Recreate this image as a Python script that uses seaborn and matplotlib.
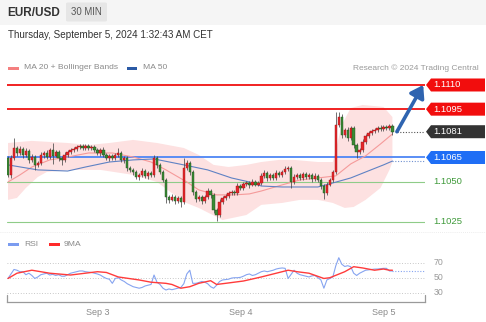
import numpy as np
import pandas as pd
import matplotlib
matplotlib.use("Agg")
import matplotlib.pyplot as plt
import seaborn as sns
from matplotlib.patches import Polygon, Rectangle, FancyBboxPatch

sns.set_theme(style="white")
plt.rcParams['font.family'] = ['Liberation Sans', 'DejaVu Sans']

# ---------------- data ----------------
symbol = "EUR/USD"
timeframe = "30 MIN"
timestamp = "Thursday, September 5, 2024 1:32:43 AM CET"
day_labels = ["Sep 3", "Sep 4", "Sep 5"]
day_index = [30, 78, 126]

first_open = 1.10647
closes = [
    1.10542, 1.10647, 1.10709, 1.10678, 1.10703, 1.10666, 1.10691, 1.10635, 1.10653, 1.10604,
    1.10616, 1.10666, 1.10678, 1.10653, 1.10697, 1.10660, 1.10684, 1.10647, 1.10635, 1.10666,
    1.10684, 1.10697, 1.10703, 1.10715, 1.10722, 1.10709, 1.10722, 1.10709, 1.10715, 1.10697,
    1.10678, 1.10697, 1.10666, 1.10647, 1.10660, 1.10647, 1.10666, 1.10678, 1.10635, 1.10647,
    1.10585, 1.10573, 1.10560, 1.10529, 1.10542, 1.10566, 1.10535, 1.10554, 1.10542, 1.10647,
    1.10604, 1.10560, 1.10511, 1.10405, 1.10387, 1.10405, 1.10380, 1.10399, 1.10374, 1.10585,
    1.10616, 1.10560, 1.10436, 1.10393, 1.10405, 1.10380, 1.10405, 1.10442, 1.10418, 1.10325,
    1.10293, 1.10374, 1.10399, 1.10411, 1.10430, 1.10436, 1.10430, 1.10473, 1.10461, 1.10486,
    1.10492, 1.10480, 1.10498, 1.10480, 1.10492, 1.10535, 1.10554, 1.10523, 1.10542, 1.10523,
    1.10554, 1.10542, 1.10560, 1.10579, 1.10585, 1.10498, 1.10529, 1.10542, 1.10523, 1.10548,
    1.10529, 1.10542, 1.10517, 1.10535, 1.10511, 1.10474, 1.10430, 1.10480, 1.10511, 1.10560,
    1.10852, 1.10901, 1.10790, 1.10821, 1.10771, 1.10833, 1.10728, 1.10684, 1.10697, 1.10746,
    1.10784, 1.10802, 1.10815, 1.10821, 1.10833, 1.10827, 1.10839, 1.10833, 1.10846, 1.10810,
]
upper_wick_pips = [
    1, 2, 6, 1, 2, 1, 2, 1, 2, 1,
    1, 2, 1, 2, 1, 4, 1, 1, 1, 2,
    1, 1, 1, 1, 1, 1, 1, 1, 1, 1,
    1, 1, 2, 1, 1, 1, 1, 3, 1, 1,
    1, 1, 1, 1, 1, 2, 1, 1, 1, 2,
    1, 1, 1, 1, 1, 2, 1, 1, 1, 6,
    2, 1, 1, 1, 1, 1, 1, 2, 1, 1,
    1, 2, 1, 1, 1, 1, 1, 2, 1, 1,
    1, 1, 2, 1, 1, 2, 2, 1, 1, 1,
    2, 1, 1, 2, 1, 1, 2, 1, 1, 1,
    1, 1, 1, 2, 1, 1, 1, 2, 1, 1,
    8, 3, 2, 1, 2, 1, 1, 1, 1, 2,
    1, 1, 1, 1, 1, 2, 1, 1, 1, 1,
]
lower_wick_pips = [
    1, 2, 1, 2, 1, 2, 1, 2, 1, 3,
    1, 1, 2, 1, 1, 5, 1, 2, 3, 1,
    1, 1, 1, 1, 1, 1, 1, 1, 1, 1,
    1, 2, 1, 1, 2, 1, 1, 1, 1, 2,
    2, 1, 2, 1, 2, 1, 1, 2, 1, 1,
    2, 1, 1, 4, 2, 1, 2, 1, 3, 1,
    1, 2, 2, 2, 1, 2, 1, 1, 2, 2,
    4, 1, 1, 1, 1, 1, 1, 1, 1, 1,
    1, 2, 1, 1, 1, 1, 1, 2, 1, 1,
    1, 1, 1, 1, 1, 4, 1, 1, 1, 1,
    1, 1, 2, 1, 1, 2, 4, 1, 1, 1,
    1, 1, 2, 1, 2, 1, 2, 4, 1, 1,
    1, 1, 1, 1, 1, 1, 1, 1, 1, 2,
]

ma20_idx = [0, 4, 8, 14, 20, 27, 35, 42, 48, 53, 60, 64, 70, 76, 81, 85, 92, 98, 104, 110, 115, 120, 125, 129]
ma20_val = [1.10498, 1.10542, 1.10591, 1.10635, 1.10653, 1.10678, 1.10678, 1.10653, 1.10622, 1.10573,
            1.10498, 1.10449, 1.10418, 1.10418, 1.10424, 1.10442, 1.10480, 1.10511, 1.10523, 1.10536,
            1.10610, 1.10660, 1.10734, 1.10796]

bb_up_idx = [0, 8, 20, 27, 34, 42, 50, 59, 64, 69, 74, 80, 85, 91, 96, 104, 109, 110, 112, 115, 119, 126, 129]
bb_up_val = [1.10740, 1.10753, 1.10740, 1.10728, 1.10740, 1.10759, 1.10740, 1.10709, 1.10666, 1.10604,
             1.10591, 1.10604, 1.10622, 1.10635, 1.10635, 1.10622, 1.10622, 1.10697, 1.10852, 1.10957,
             1.10976, 1.10964, 1.10901]
bb_lo_idx = [0, 3, 6, 10, 13, 21, 31, 42, 50, 59, 64, 72, 80, 85, 92, 98, 104, 109, 113, 116, 120, 125, 128, 129]
bb_lo_val = [1.10387, 1.10399, 1.10461, 1.10529, 1.10560, 1.10573, 1.10573, 1.10542, 1.10498, 1.10374,
             1.10337, 1.10262, 1.10293, 1.10356, 1.10368, 1.10387, 1.10387, 1.10368, 1.10337, 1.10343,
             1.10387, 1.10461, 1.10573, 1.10622]

ma50_idx = [0, 10, 20, 26, 34, 42, 49, 59, 67, 75, 81, 85, 92, 104, 109, 115, 120, 126, 129]
ma50_val = [1.10604, 1.10573, 1.10566, 1.10591, 1.10622, 1.10635, 1.10641, 1.10604, 1.10573, 1.10523,
            1.10498, 1.10473, 1.10467, 1.10467, 1.10492, 1.10523, 1.10560, 1.10604, 1.10628]

rsi_val = [
    49, 55, 61, 60, 58, 58, 54, 56, 53, 49,
    51, 54, 55, 56, 53.6, 54.5, 53, 54, 52, 52,
    54, 56, 57, 58, 59, 59, 58, 57.5, 57, 56,
    55, 53.5, 51, 49, 48, 42.5, 49, 50, 47, 45,
    42, 40, 38, 37, 36, 37, 39, 40, 41, 53.6,
    44, 41, 36, 33.6, 35, 34, 35, 36, 37, 42,
    55, 60, 42.5, 42.5, 43.5, 45, 44, 42, 38, 36,
    40, 45, 47, 47.5, 48, 49.5, 50, 50, 50.5, 52,
    54, 55, 53, 54, 56, 58, 59, 58, 59, 60,
    61.6, 62.5, 63, 62.5, 49, 54.5, 60, 56, 54, 53,
    52, 51, 52.5, 53, 50, 47, 36, 47, 49, 51,
    66, 76.7, 68, 65, 66, 64.7, 56, 53, 56, 58,
    60, 60.5, 61, 61.5, 61.6, 62, 62.5, 62.5, 59, 59,
]
rsi_ma_idx = [0, 3, 8, 14, 21, 30, 33, 37, 44, 48, 53, 55, 58, 61, 64, 68, 70, 73, 79, 85, 90, 94, 97,
              101, 106, 108, 113, 116, 119, 123, 126, 128, 129]
rsi_ma_val = [49, 56, 60, 56, 53.6, 58, 57, 51, 47, 44, 42.5, 41, 36, 38, 42.5, 46, 41, 42.5, 45.6, 51, 56,
              60, 58, 56, 49, 50, 58, 64.7, 63, 60, 61.6, 60, 60]
rsi_levels = [30, 50, 70]

resistances = [1.1110, 1.1095]
supports_strong = [1.1065]
supports_weak = [1.1050, 1.1025]
target = 1.1110

# ---------------- figure ----------------
W, H = 486, 322
fig = plt.figure(figsize=(W / 100, H / 100), dpi=100)
fig.patch.set_facecolor("white")


def fx(px):
    return px / W


def fy(py):
    return 1 - py / H


# header band
fig.add_artist(Rectangle((0, fy(25)), 1, 25 / H, transform=fig.transFigure,
                         facecolor="#f5f5f5", edgecolor="none", zorder=0))
fig.add_artist(FancyBboxPatch((fx(66), fy(21.5)), fx(41), 19 / H, boxstyle="round,pad=0,rounding_size=0.004",
                              transform=fig.transFigure, facecolor="#e6e6e6", edgecolor="none", zorder=1))
fig.text(fx(7), fy(12.5), symbol, fontsize=8.5, fontweight="bold", color="#333333", va="center", ha="left")
fig.text(fx(86.5), fy(12.3), timeframe, fontsize=6.9, color="#555555", va="center", ha="center")
fig.text(fx(8), fy(35.5), timestamp, fontsize=7.1, color="#333333", va="center", ha="left")

# legends
fig.add_artist(Rectangle((fx(8), fy(69.5)), fx(11), 3 / H, transform=fig.transFigure,
                         facecolor="#f47f7f", edgecolor="none"))
fig.text(fx(24), fy(68), "MA 20 + Bollinger Bands", fontsize=6.1, color="#8a8a8a", va="center")
fig.add_artist(Rectangle((fx(127), fy(69.5)), fx(10), 3 / H, transform=fig.transFigure,
                         facecolor="#2b5aa5", edgecolor="none"))
fig.text(fx(143), fy(68), "MA 50", fontsize=6.1, color="#8a8a8a", va="center")
fig.text(fx(479), fy(68), "Research \u00a9 2024 Trading Central", fontsize=6.0, color="#9a9a9a",
         va="center", ha="right")

fig.add_artist(Rectangle((fx(8), fy(245.5)), fx(11), 3 / H, transform=fig.transFigure,
                         facecolor="#7b9cf0", edgecolor="none"))
fig.text(fx(24), fy(244), "RSI", fontsize=6.1, color="#8a8a8a", va="center")
fig.add_artist(Rectangle((fx(49), fy(245.5)), fx(11), 3 / H, transform=fig.transFigure,
                         facecolor="#ff2a2a", edgecolor="none"))
fig.text(fx(64), fy(244), "9MA", fontsize=6.1, color="#8a8a8a", va="center")

# faint separator
fig.add_artist(plt.Line2D([0, 1], [fy(232), fy(232)], transform=fig.transFigure,
                          color="#e6e6e6", lw=0.6, ls=(0, (1, 1.5))))

# ---------------- main price axes ----------------
n = len(closes)
idx = np.arange(n)
x_left = -0.34
x_right = 139.93
ax = fig.add_axes([fx(7), (H - 230) / H, 418 / W, 155 / H])
ax.set_xlim(x_left, x_right)
ax.set_ylim(1.10200, 1.11162)
ax.axis("off")

# Bollinger band
poly_x = list(bb_up_idx) + list(bb_lo_idx[::-1])
poly_y = list(bb_up_val) + list(bb_lo_val[::-1])
ax.fill(poly_x, poly_y, color="#fde1e1", lw=0, zorder=0)

# level lines
for lv in resistances:
    ax.axhline(lv, color="#f01010", lw=1.3, zorder=1)
for lv in supports_strong:
    ax.axhline(lv, color="#4d86f5", lw=1.3, zorder=1)
for lv in supports_weak:
    ax.axhline(lv, color="#8fcc88", lw=0.8, zorder=1)

# moving averages
sns.lineplot(x=ma20_idx, y=ma20_val, ax=ax, color="#f59a9a", lw=0.8, zorder=2)
sns.lineplot(x=ma50_idx, y=ma50_val, ax=ax, color="#5f82c4", lw=0.8, zorder=2)
ax.plot([ma50_idx[-1], x_right], [ma50_val[-1]] * 2, color="#6f90d0", lw=0.8,
        ls=(0, (1, 1.5)), zorder=2)

# candles
opens = np.array([first_open] + closes[:-1])
cl = np.array(closes)
pip = 0.0001
body_lo = np.minimum(opens, cl)
body_hi = np.maximum(opens, cl)
highs = body_hi + np.array(upper_wick_pips) * pip
lows = body_lo - np.array(lower_wick_pips) * pip
up = cl >= opens
colors = np.where(up, "#e3262a", "#3a8a35")
edges = np.where(up, "#a31417", "#1f4f1c")
ax.vlines(idx, lows, highs, colors="#4a4a4a", lw=0.55, zorder=3)
heights = np.maximum(body_hi - body_lo, 0.00004)
ax.bar(idx, heights, bottom=body_lo, width=0.8, color=colors, edgecolor=edges, lw=0.3, zorder=4)

# last price dotted and arrow
ax.plot([n + 0.5, x_right], [closes[-1]] * 2, color="#555555", lw=0.8, ls=(0, (1, 1.5)), zorder=2)
ax.annotate("", xy=(x_right - 0.6, target), xytext=(n + 0.5, closes[-1]),
            arrowprops=dict(arrowstyle="-|>,head_length=0.6,head_width=0.4", color="#2f64b0",
                            lw=2.6, shrinkA=0, shrinkB=0), zorder=6)

# price tags
fig.canvas.draw()
inv = fig.transFigure.inverted()


def tag(level, fc, txt):
    yd = ax.transData.transform((0, level))[1]
    pts = [(426, yd), (431, yd + 6.5), (485, yd + 6.5), (485, yd - 6.5), (431, yd - 6.5)]
    pts = inv.transform(pts)
    fig.add_artist(Polygon(pts, closed=True, transform=fig.transFigure, facecolor=fc,
                           edgecolor="none", zorder=5))
    fig.text(fx(433), inv.transform((0, yd))[1], txt, fontsize=6.8, color="white",
             va="center", ha="left", zorder=6)


for lv in resistances:
    tag(lv, "#f20d0d", f"{lv:.4f}")
tag(closes[-1], "#333333", f"{round(closes[-1], 4):.4f}")
for lv in supports_strong:
    tag(lv, "#1f6ef5", f"{lv:.4f}")
for lv in supports_weak:
    yd = ax.transData.transform((0, lv))[1]
    fig.text(fx(433), inv.transform((0, yd))[1], f"{lv:.4f}", fontsize=6.8, color="#3f9a3a",
             va="center", ha="left")

# ---------------- RSI axes ----------------
ax2 = fig.add_axes([fx(7), (H - 302) / H, 418 / W, 47 / H])
ax2.set_xlim(x_left, x_right)
ax2.set_ylim(17.6, 80.3)
for s in ["top", "right", "left"]:
    ax2.spines[s].set_visible(False)
ax2.spines["bottom"].set_color("#9a9a9a")
ax2.spines["bottom"].set_linewidth(0.9)
ax2.set_facecolor("none")
for lv in rsi_levels:
    ax2.axhline(lv, color="#b5b5b5", lw=0.6, ls=(0, (1, 2.2)), zorder=0)
    ax2.text(1.02, lv, str(lv), transform=ax2.get_yaxis_transform(), fontsize=6.3, color="#9a9a9a",
             va="center", ha="left")
sns.lineplot(x=idx, y=rsi_val, ax=ax2, color="#86a4f0", lw=0.8, zorder=2)
sns.lineplot(x=rsi_ma_idx, y=rsi_ma_val, ax=ax2, color="#ff3b3b", lw=1.0, zorder=3)
ax2.plot([n - 1, x_right], [rsi_val[-1]] * 2, color="#86a4f0", lw=0.8, ls=(0, (1, 1.5)), zorder=2)
ax2.plot([0, 0], [0, 0.14], transform=ax2.transAxes, color="#9a9a9a", lw=0.9, clip_on=False)
ax2.plot([1, 1], [0, 0.14], transform=ax2.transAxes, color="#9a9a9a", lw=0.9, clip_on=False)
ax2.set_yticks([])
ax2.set_xticks(day_index)
ax2.set_xticklabels(day_labels)
ax2.tick_params(axis="x", length=0, pad=4.5, labelsize=6.5, labelcolor="#8a8a8a")
ax2.set_xlabel("")
ax2.set_ylabel("")

fig.savefig("out.png", dpi=100)
